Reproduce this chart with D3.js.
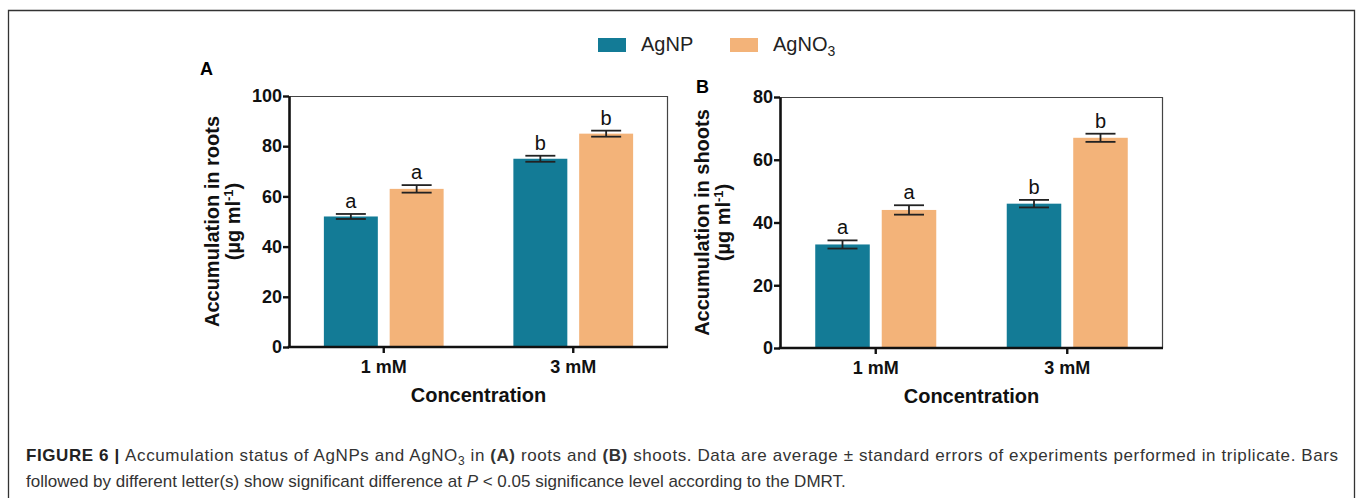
<!DOCTYPE html>
<html>
<head>
<meta charset="utf-8">
<script src="https://cdn.jsdelivr.net/npm/d3@7"></script>
<style>
	body { margin: 0; background: #fff; }
	svg { display: block; font-family: "Liberation Sans", Arial, sans-serif; }
</style>
</head>
<body>
<div id="chart"></div>
<script>
const categories = ["1 mM", "3 mM"];
const seriesNames = ["AgNP", "AgNO3"];
const seriesColors = ["#137b96", "#f3b379"];

// panel A: roots
const rootsAgNP = [52, 75];
const rootsAgNO3 = [63, 85];
const rootsErrAgNP = [1.0, 1.2];
const rootsErrAgNO3 = [1.5, 1.2];
const rootsLettersAgNP = ["a", "b"];
const rootsLettersAgNO3 = ["a", "b"];
const rootsTicks = [0, 20, 40, 60, 80, 100];

// panel B: shoots
const shootsAgNP = [33, 46];
const shootsAgNO3 = [44, 67];
const shootsErrAgNP = [1.3, 1.2];
const shootsErrAgNO3 = [1.5, 1.3];
const shootsLettersAgNP = ["a", "b"];
const shootsLettersAgNO3 = ["a", "b"];
const shootsTicks = [0, 20, 40, 60, 80];

const width = 1357;
const height = 498;

const svg = d3.select("#chart")
	.append("svg")
	.attr("width", width)
	.attr("height", height)
	.attr("viewBox", `0 0 ${width} ${height}`);

// outer figure frame (bottom edge runs off the page)
svg.append("path")
	.attr("d", `M8.5,${height + 5}V10.5H1354.5V${height + 5}`)
	.attr("fill", "none")
	.attr("stroke", "#333")
	.attr("stroke-width", 1.3);

function buildRows(means, errs, letters) {
	return categories.map((cat, i) => ({ cat, value: means[i], err: errs[i], letter: letters[i] }));
}

function drawPanel(opts) {
	const { left, top, right, bottom, yMax, ticks, series, title, panelLabel } = opts;
	const innerWidth = right - left;
	const innerHeight = bottom - top;
	const g = svg.append("g").attr("transform", `translate(${left},${top})`);

	const x0 = d3.scaleBand().domain(categories).range([0, innerWidth]).padding(0);
	const x1 = d3.scaleBand().domain(seriesNames).range([0, x0.bandwidth()])
		.paddingInner(0.18).paddingOuter(0.53);
	const y = d3.scaleLinear().domain([0, yMax]).range([innerHeight, 0]);

	// thin frame on top and right
	g.append("path")
		.attr("d", `M0,0.5H${innerWidth - 0.5}V${innerHeight}`)
		.attr("fill", "none")
		.attr("stroke", "#444")
		.attr("stroke-width", 1.2);

	const groups = g.selectAll(".series")
		.data(series)
		.join("g")
		.attr("class", "series");

	groups.selectAll("rect")
		.data((s) => s.rows.map((r) => ({ ...r, name: s.name, color: s.color })))
		.join("rect")
		.attr("x", (d) => x0(d.cat) + x1(d.name))
		.attr("y", (d) => y(d.value))
		.attr("width", x1.bandwidth())
		.attr("height", (d) => innerHeight - y(d.value))
		.attr("fill", (d) => d.color);

	const errs = groups.selectAll(".err")
		.data((s) => s.rows.map((r) => ({ ...r, name: s.name })))
		.join("g")
		.attr("class", "err")
		.attr("transform", (d) => `translate(${x0(d.cat) + x1(d.name) + x1.bandwidth() / 2},0)`)
		.attr("stroke", "#222")
		.attr("stroke-width", 1.8);
	const capHalf = 15;
	errs.append("line")
		.attr("y1", (d) => y(d.value - d.err))
		.attr("y2", (d) => y(d.value + d.err));
	errs.append("line")
		.attr("x1", -capHalf).attr("x2", capHalf)
		.attr("y1", (d) => y(d.value + d.err))
		.attr("y2", (d) => y(d.value + d.err));
	errs.append("line")
		.attr("x1", -capHalf).attr("x2", capHalf)
		.attr("y1", (d) => y(d.value - d.err))
		.attr("y2", (d) => y(d.value - d.err));

	groups.selectAll(".letter")
		.data((s) => s.rows.map((r) => ({ ...r, name: s.name })))
		.join("text")
		.attr("class", "letter")
		.attr("x", (d) => x0(d.cat) + x1(d.name) + x1.bandwidth() / 2)
		.attr("y", (d) => y(d.value + d.err) - 6)
		.attr("text-anchor", "middle")
		.attr("font-size", 20)
		.attr("fill", "#111")
		.text((d) => d.letter);

	// axes
	const yAxis = g.append("g")
		.call(d3.axisLeft(y).tickValues(ticks).tickSize(6).tickSizeOuter(0).tickPadding(1));
	const xAxis = g.append("g")
		.attr("transform", `translate(0,${innerHeight})`)
		.call(d3.axisBottom(x0).tickSize(6).tickSizeOuter(0).tickPadding(7));
	[yAxis, xAxis].forEach((axis) => {
		axis.select(".domain").attr("stroke", "#111").attr("stroke-width", 2.6);
		axis.selectAll(".tick line").attr("stroke", "#111").attr("stroke-width", 2.4);
		axis.selectAll("text")
			.attr("fill", "#111")
			.attr("font-size", 18)
			.attr("font-weight", "bold")
			.attr("font-family", "Liberation Sans, Arial, sans-serif");
	});
	// extend x-axis domain over the y-axis line
	xAxis.select(".domain").attr("d", `M-1.3,0H${innerWidth}`);

	g.append("text")
		.attr("x", innerWidth / 2)
		.attr("y", innerHeight + 55)
		.attr("text-anchor", "middle")
		.attr("font-size", 20)
		.attr("font-weight", "bold")
		.attr("fill", "#111")
		.text("Concentration");

	const yTitle = g.append("text")
		.attr("transform", `translate(${opts.titleX},${innerHeight / 2}) rotate(-90)`)
		.attr("text-anchor", "middle")
		.attr("font-size", 20)
		.attr("font-weight", "bold")
		.attr("fill", "#111");
	yTitle.append("tspan").attr("x", 0).attr("dy", 0).text(title);
	const unit = yTitle.append("tspan").attr("x", 0).attr("dy", 21).text("(µg ml");
	unit.append("tspan").attr("dy", -7).attr("font-size", 13).text("-1");
	unit.append("tspan").attr("dy", 7).text(")");

	svg.append("text")
		.attr("x", panelLabel.x)
		.attr("y", panelLabel.y)
		.attr("font-size", 18)
		.attr("font-weight", "bold")
		.attr("fill", "#000")
		.text(panelLabel.text);
}

drawPanel({
	left: 289, top: 96, right: 668, bottom: 347,
	yMax: 100, ticks: rootsTicks,
	title: "Accumulation in roots",
	titleX: -70,
	panelLabel: { text: "A", x: 200, y: 75 },
	series: [
		{ name: seriesNames[0], color: seriesColors[0], rows: buildRows(rootsAgNP, rootsErrAgNP, rootsLettersAgNP) },
		{ name: seriesNames[1], color: seriesColors[1], rows: buildRows(rootsAgNO3, rootsErrAgNO3, rootsLettersAgNO3) },
	],
});

drawPanel({
	left: 780, top: 97, right: 1163, bottom: 348,
	yMax: 80, ticks: shootsTicks,
	title: "Accumulation in shoots",
	titleX: -71,
	panelLabel: { text: "B", x: 696, y: 93 },
	series: [
		{ name: seriesNames[0], color: seriesColors[0], rows: buildRows(shootsAgNP, shootsErrAgNP, shootsLettersAgNP) },
		{ name: seriesNames[1], color: seriesColors[1], rows: buildRows(shootsAgNO3, shootsErrAgNO3, shootsLettersAgNO3) },
	],
});

// legend
const legendItems = [
	{ label: "AgNP", sub: "", color: seriesColors[0], x: 598 },
	{ label: "AgNO", sub: "3", color: seriesColors[1], x: 730 },
];
const legend = svg.append("g").selectAll("g").data(legendItems).join("g")
	.attr("transform", (d) => `translate(${d.x},38)`);
legend.append("rect")
	.attr("width", 28).attr("height", 14)
	.attr("fill", (d) => d.color);
const legendText = legend.append("text")
	.attr("x", 43).attr("y", 13)
	.attr("font-size", 20)
	.attr("fill", "#222");
legendText.append("tspan").text((d) => d.label);
legendText.append("tspan").attr("dy", 5).attr("font-size", 14).text((d) => d.sub);

// caption
const caption = svg.append("g").attr("font-size", 17).attr("fill", "#333");
const line1 = caption.append("text").attr("x", 26).attr("y", 461)
	.attr("textLength", 1312).attr("lengthAdjust", "spacing");
line1.append("tspan").attr("font-weight", "bold").attr("fill", "#222").text("FIGURE 6 | ");
line1.append("tspan").text("Accumulation status of AgNPs and AgNO");
line1.append("tspan").attr("dy", 4).attr("font-size", 12).text("3");
line1.append("tspan").attr("dy", -4).text(" in ");
line1.append("tspan").attr("font-weight", "bold").text("(A)");
line1.append("tspan").text(" roots and ");
line1.append("tspan").attr("font-weight", "bold").text("(B)");
line1.append("tspan").text(" shoots. Data are average ± standard errors of experiments performed in triplicate. Bars");
const line2 = caption.append("text").attr("x", 26).attr("y", 487);
line2.append("tspan").text("followed by different letter(s) show significant difference at ");
line2.append("tspan").attr("font-style", "italic").text("P");
line2.append("tspan").text(" < 0.05 significance level according to the DMRT.");
</script>
</body>
</html>
